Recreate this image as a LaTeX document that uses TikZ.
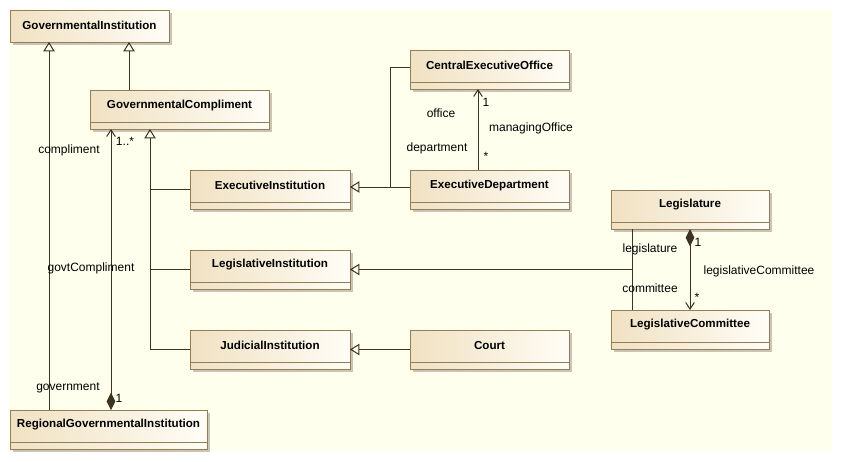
\documentclass[tikz,border=0pt]{standalone}
\usepackage{fontspec}
\setmainfont{Liberation Sans}
\usetikzlibrary{arrows.meta,calc}
\definecolor{bgc}{RGB}{255,255,238}
\definecolor{boxL}{RGB}{240,225,194}
\definecolor{boxR}{RGB}{255,253,246}
\definecolor{borderc}{RGB}{150,125,85}
\definecolor{linec}{RGB}{62,50,34}
\definecolor{shadowc}{RGB}{200,196,182}
\def\px{0.75pt}
\tikzset{
  clsbox/.style={draw=borderc, line width=0.75pt, left color=boxL, right color=boxR, outer sep=0pt, inner sep=0pt},
  clstext/.style={font=\fontsize{8.7}{10}\selectfont\bfseries, text=black, inner sep=0pt},
  lbl/.style={font=\fontsize{9}{11}\selectfont, text=black, inner sep=0pt},
  sepline/.style={draw=borderc, line width=0.75pt},
  conn/.style={draw=linec, line width=0.75pt},
  gen/.style={conn, -{Triangle[open, length=7pt, width=8.5pt]}},
  assoc/.style={conn, -{Straight Barb[length=5pt, width=6.5pt]}},
  comp/.style={conn, {Diamond[length=13pt, width=6.5pt, fill=linec]}-{Straight Barb[length=5pt, width=6.5pt]}}
}
\newcommand\umlclass[6]{%
  \fill[shadowc] ({#2+3},{#3+3}) rectangle ({#4+3},{#5+3});
  \node[clsbox, anchor=north west, minimum width={(#4-#2)*0.75pt}, minimum height={(#5-#3)*0.75pt}] (#1) at (#2,#3) {};
  \draw[sepline] ([yshift=7*\px]#1.south west) -- ([yshift=7*\px]#1.south east);
  \node[clstext] (#1-t) at ([yshift=-15*\px]#1.north) {#6};
}
\begin{document}
\begin{tikzpicture}[x=0.75pt, y=-0.75pt]
\useasboundingbox (0,0) rectangle (842,461);
\fill[bgc] (9,9) rectangle (832,451);

% GovernmentalInstitution (no separator)
\fill[shadowc] (13,13) rectangle (172,45);
\node[clsbox, anchor=north west, minimum width={159*0.75pt}, minimum height={32*0.75pt}] (GI) at (10,10) {};
\node[clstext] (GI-t) at ([yshift=-15*\px]GI.north) {GovernmentalInstitution};

\umlclass{GC}{90}{90}{269}{129}{GovernmentalCompliment}
\umlclass{ExecInst}{190}{170}{350}{209}{ExecutiveInstitution}
\umlclass{LegInst}{190}{250}{350}{289}{LegislativeInstitution}
\umlclass{JudInst}{190}{330}{350}{369}{JudicialInstitution}
\umlclass{CEO}{410}{50}{569}{89}{CentralExecutiveOffice}
\umlclass{ExecDept}{410}{170}{569}{209}{ExecutiveDepartment}
\umlclass{Legislature}{611}{190}{769}{229}{Legislature}
\umlclass{LegComm}{611}{310}{769}{349}{LegislativeCommittee}
\umlclass{Court}{410}{330}{569}{369}{Court}
\umlclass{RGI}{10}{410}{207}{449}{RegionalGovernmentalInstitution}

% generalizations to GovernmentalInstitution
\draw[gen] ([xshift=39*\px]RGI.north west) -- ([xshift=39*\px]GI.south west);
\draw[gen] ([xshift=39*\px]GC.north west) -- ([xshift=119*\px]GI.south west);

% composition RGI - GC
\draw[comp] ([xshift=101*\px]RGI.north west) -- ([xshift=21*\px]GC.south west);

% generalizations to GovernmentalCompliment
\draw[gen] (JudInst.west) -| ([xshift=60*\px]GC.south west);
\draw[conn] (ExecInst.west) -- ++(-40,0);
\draw[conn] (LegInst.west) -- ++(-40,0);

% executive
\coordinate (execJoin) at ([xshift=-20*\px, yshift=2.5*\px]ExecDept.west);
\draw[gen] ([yshift=2.5*\px]ExecDept.west) -- ([yshift=2.5*\px]ExecInst.east);
\draw[conn] ([yshift=2*\px]CEO.west) -| (execJoin);
\draw[assoc] ([xshift=68*\px]ExecDept.north west) -- ([xshift=68*\px]CEO.south west);

% legislative
\coordinate (legTop) at ([xshift=21*\px]Legislature.south west);
\coordinate (legBot) at ([xshift=21*\px]LegComm.north west);
\draw[conn] (legTop) -- (legBot);
\draw[gen] (legTop |- LegInst.east) -- (LegInst.east);
\draw[comp] ([xshift=79*\px]Legislature.south west) -- ([xshift=79*\px]LegComm.north west);

% judicial
\draw[gen] (Court.west) -- (JudInst.east);

% labels
\node[lbl] (l1) at (69,150) {compliment};
\node[lbl] (l2) at (125,141) {1..*};
\node[lbl] (l3) at (91,268) {govtCompliment};
\node[lbl] (l4) at (68,388) {government};
\node[lbl] (l5) at (119,398) {1};
\node[lbl] (l6) at (441,113) {office};
\node[lbl] (l7) at (486,102) {1};
\node[lbl] (l8) at (531,128) {managingOffice};
\node[lbl] (l9) at (437,148) {department};
\node[lbl] (l10) at (486,156) {*};
\node[lbl] (l11) at (650,249) {legislature};
\node[lbl] (l12) at (650,288) {committee};
\node[lbl] (l13) at (698,242) {1};
\node[lbl] (l14) at (759,271) {legislativeCommittee};
\node[lbl] (l15) at (697,297) {*};
\end{tikzpicture}
\end{document}
